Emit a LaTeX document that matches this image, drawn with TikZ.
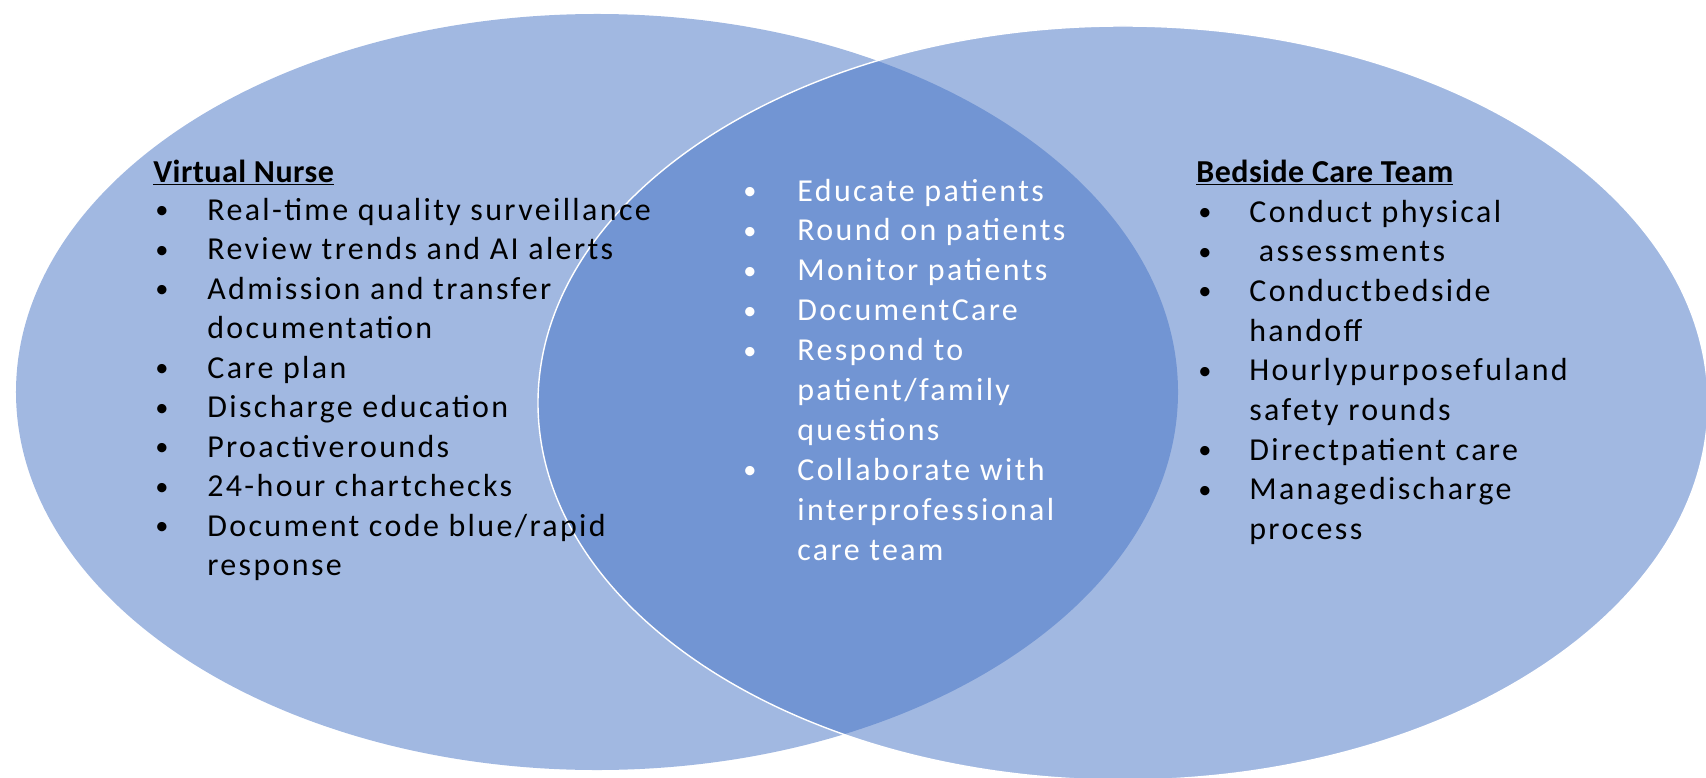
\documentclass[tikz,border=0pt]{standalone}
\usepackage{fontspec}
\setmainfont{Carlito}
\usepackage{tikz}
\definecolor{vennblau}{HTML}{4472C4}
\tikzset{
  kreis/.style={fill=vennblau, fill opacity=0.5},
  zeile/.style={anchor=base west, inner sep=0pt, font=\fontsize{18.2}{21}\selectfont\addfontfeatures{LetterSpace=7.4}},
  punkt/.style={anchor=base west, inner sep=0pt, font=\fontsize{15}{18}\selectfont},
  titel/.style={anchor=base west, inner sep=0pt, font=\fontsize{18.2}{21}\selectfont\bfseries\addfontfeatures{LetterSpace=1.5}},
}
\begin{document}
\begin{tikzpicture}[x=0.02cm,y=-0.02cm]
%Halbachsen in cm (1 Pixel = 0.02cm), Ueberlappung wird durch die Deckkraft dunkler
  \pgfmathsetmacro{\rxL}{581*0.02}
  \pgfmathsetmacro{\ryL}{378*0.02}
  \pgfmathsetmacro{\rxR}{585*0.02}
  \pgfmathsetmacro{\ryR}{377*0.02}
\useasboundingbox (0,0) rectangle (1706,777);
\fill[kreis] (597,392) ellipse [x radius=\rxL cm, y radius=\ryL cm];
\filldraw[kreis, draw=white, line width=0.8pt] (1123,403) ellipse [x radius=\rxR cm, y radius=\ryR cm];
%Links
\node[titel] (vn) at (153,182) {\underline{Virtual Nurse}};
\foreach \b/\txt [count=\i from 0] in {1/{Real-time quality surveillance},1/{Review trends and AI alerts},1/{Admission and transfer},0/{documentation},1/{Care plan},1/{Discharge education},1/{Proactiverounds},1/{24-hour chartchecks},1/{Document code blue/rapid},0/{response}}{
  \node[zeile] (vn\i) at (207,220+39.5*\i) {\txt};
  \ifnum\b=1 \node[punkt] (vnp\i) at (155,218.5+39.5*\i) {\textbullet}; \fi
}
%Mitte
\foreach \b/\txt [count=\i from 0] in {1/{Educate patients},1/{Round on patients},1/{Monitor patients},1/{DocumentCare},1/{Respond to},0/{patient/family},0/{questions},1/{Collaborate with},0/{interprofessional},0/{care team}}{
  \node[zeile, white] (mt\i) at (797,201+39.9*\i) {\txt};
  \ifnum\b=1 \node[punkt, white] (mtp\i) at (743,199.5+39.9*\i) {\textbullet}; \fi
}
%Rechts
\node[titel] (bc) at (1196,182) {\underline{Bedside Care Team}};
\foreach \b/\txt [count=\i from 0] in {1/{Conduct physical},1/{\ assessments},1/{Conductbedside},0/{handoff},1/{Hourlypurposefuland},0/{safety rounds},1/{Directpatient care},1/{Managedischarge},0/{process}}{
  \node[zeile] (bc\i) at (1249,222+39.7*\i) {\txt};
  \ifnum\b=1 \node[punkt] (bcp\i) at (1198,220.5+39.7*\i) {\textbullet}; \fi
}
\end{tikzpicture}
\end{document}
